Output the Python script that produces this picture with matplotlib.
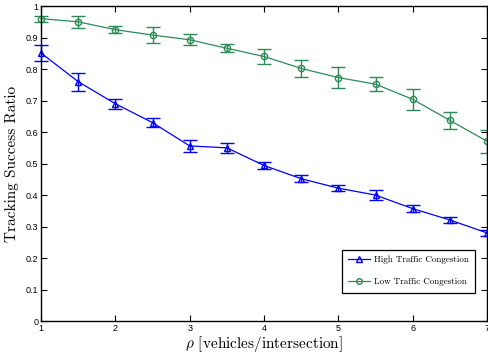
import matplotlib
matplotlib.use("Agg")
import matplotlib.pyplot as plt
from matplotlib.lines import Line2D

rho = [1, 1.5, 2, 2.5, 3, 3.5, 4, 4.5, 5, 5.5, 6, 6.5, 7]
high = [0.851, 0.760, 0.690, 0.630, 0.556, 0.550, 0.494, 0.452, 0.422, 0.400, 0.357, 0.321, 0.280]
high_err = [0.026, 0.029, 0.016, 0.015, 0.019, 0.015, 0.012, 0.012, 0.010, 0.016, 0.012, 0.010, 0.010]
low = [0.960, 0.950, 0.925, 0.908, 0.893, 0.866, 0.840, 0.802, 0.773, 0.752, 0.704, 0.637, 0.571]
low_err = [0.010, 0.020, 0.012, 0.024, 0.018, 0.013, 0.023, 0.026, 0.034, 0.022, 0.034, 0.028, 0.037]
xticks = [1, 2, 3, 4, 5, 6, 7]
yticks = [0, 0.1, 0.2, 0.3, 0.4, 0.5, 0.6, 0.7, 0.8, 0.9, 1]
ytick_labels = ["0", "0.1", "0.2", "0.3", "0.4", "0.5", "0.6", "0.7", "0.8", "0.9", "1"]
labels = ['High Traffic Congestion', 'Low Traffic Congestion']

plt.rcParams['mathtext.fontset'] = 'cm'

fig = plt.figure(figsize=(4.88, 3.56), dpi=100)
ax = fig.add_axes([0.084, 0.098, 0.914, 0.885])

blue = '#0000ff'
green = '#2e8b57'

ax.errorbar(rho, high, yerr=high_err, color=blue, marker='^', markersize=4.5,
            markerfacecolor='none', markeredgewidth=1.0, linewidth=0.9,
            elinewidth=1.0, capsize=5, capthick=1.0, clip_on=False)
ax.errorbar(rho, low, yerr=low_err, color=green, marker='o', markersize=4.5,
            markerfacecolor='none', markeredgewidth=1.0, linewidth=0.9,
            elinewidth=1.0, capsize=5, capthick=1.0, clip_on=False)

ax.set_xlim(1, 7)
ax.set_ylim(0, 1)
ax.set_xticks(xticks)
ax.set_xticklabels([str(x) for x in xticks], fontsize=6.5, family='Liberation Sans')
ax.set_yticks(yticks)
ax.set_yticklabels(ytick_labels, fontsize=6.5, family='Liberation Sans')
ax.tick_params(direction='in', top=True, right=True, length=4, width=0.8, pad=2)
for s in ax.spines.values():
    s.set_linewidth(1.0)

ax.set_xlabel(r'$\rho$ [vehicles/intersection]', fontsize=11, family='cmr10', labelpad=1)
ax.set_ylabel('Tracking Success Ratio', fontsize=11, family='cmr10', labelpad=5)

handles = [
    Line2D([], [], color=blue, marker='^', markersize=4, markerfacecolor='none', linewidth=0.9),
    Line2D([], [], color=green, marker='o', markersize=4, markerfacecolor='none', linewidth=0.9),
]
leg = ax.legend(handles, labels, loc='lower right', bbox_to_anchor=(0.979, 0.082),
                prop={'family': 'cmr10', 'size': 6.5},
                fancybox=False, edgecolor='black', framealpha=1, handlelength=2.4,
                handletextpad=0.4, borderpad=0.7, borderaxespad=0.3, labelspacing=1.5)
leg.get_frame().set_linewidth(0.9)

fig.savefig('out.png', dpi=100)
